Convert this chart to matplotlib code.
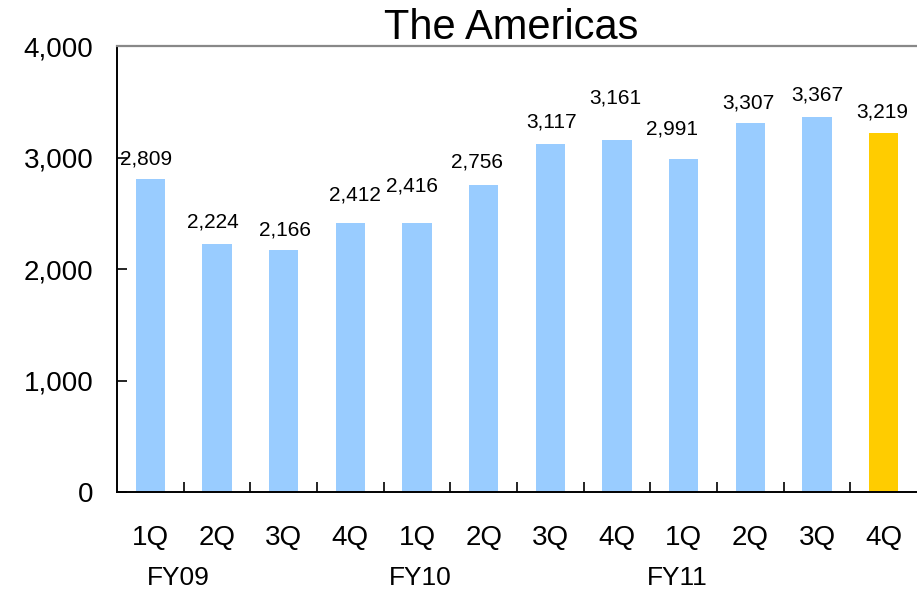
import matplotlib
matplotlib.use("Agg")
import matplotlib.pyplot as plt
from matplotlib.ticker import FuncFormatter

plt.rcParams['font.family'] = ['Liberation Sans', 'DejaVu Sans']

quarters = ["1Q", "2Q", "3Q", "4Q", "1Q", "2Q", "3Q", "4Q", "1Q", "2Q", "3Q", "4Q"]
values = [2809, 2224, 2166, 2412, 2416, 2756, 3117, 3161, 2991, 3307, 3367, 3219]
fiscal_years = ["FY09", "FY10", "FY11"]
title = "The Americas"

# layout constants (label nudges in pixels, FY label positions in category units)
label_dx = [-4.5, -4, 1, 4.5, -5, -6.5, 1.5, -1.5, -11.5, -1.5, 0, -1]
label_dy = [20, 22, 20.5, 28, 37, 23, 22.5, 41.5, 29.5, 20, 21.5, 21]
fy_pos = [0.42, 4.05, 7.9]

W, H = 917, 590
fig = plt.figure(figsize=(W / 100, H / 100), dpi=100)
ax = fig.add_axes([117 / W, (H - 492) / H, 800 / W, (492 - 46) / H])

x = list(range(len(values)))
colors = ["#99CCFF"] * (len(values) - 1) + ["#FFCC00"]
ax.bar(x, values, width=0.44, color=colors, zorder=2)

ax.set_xlim(-0.5, len(values) - 0.5)
ax.set_ylim(0, 4000)
ax.set_yticks([0, 1000, 2000, 3000, 4000])
ax.yaxis.set_major_formatter(FuncFormatter(lambda v, p: f"{int(v):,}"))

ax.set_xticks(x)
ax.set_xticklabels(quarters)
ax.set_xticks([i + 0.5 for i in range(len(values) - 1)], minor=True)
ax.tick_params(axis='x', which='major', length=0, pad=24, labelsize=20)
ax.tick_params(axis='x', which='minor', direction='in', length=7.5, width=1.2, color='black')
ax.tick_params(axis='y', which='major', direction='in', length=7.5, width=1.2, pad=17, labelsize=20)

ax.spines['right'].set_visible(False)
ax.spines['top'].set_color('#888888')
ax.spines['top'].set_linewidth(1.6)
ax.spines['left'].set_linewidth(1.4)
ax.spines['bottom'].set_linewidth(1.4)

for i, v in enumerate(values):
    ax.annotate(f"{v:,}", xy=(i, v), xytext=(label_dx[i], label_dy[i]),
                textcoords='offset pixels', ha='center', va='center', fontsize=15)

for pos, fy in zip(fy_pos, fiscal_years):
    ax.annotate(fy, xy=(pos, 0), xycoords=('data', 'axes fraction'),
                xytext=(0, -86), textcoords='offset pixels',
                ha='center', va='center', fontsize=19)

fig.text(511 / W, 1 - 28 / H, title, ha='center', va='center', fontsize=30)

fig.savefig("out.png", dpi=100)
